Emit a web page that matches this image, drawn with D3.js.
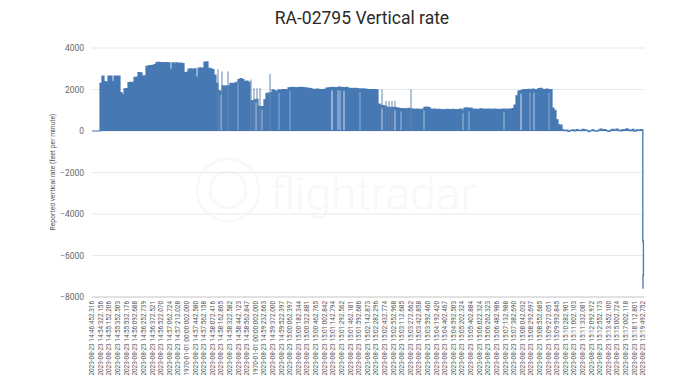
<!DOCTYPE html>
<html>
<head>
<meta charset="utf-8">
<title>RA-02795 Vertical rate</title>
<script src="https://cdn.jsdelivr.net/npm/d3@7"></script>
<style>
  html, body { margin: 0; padding: 0; background: #fff; }
  svg { display: block; font-family: Roboto, sans-serif; }
</style>
</head>
<body>
<div id="chart"></div>
<script>
// vertical rate samples, one every two pixels' worth of the track
const climbA = [0,0,0,0,2300,2650,2380,2360,2650,2650,2380,2650,2650,2650,1850,1750,2030,2040,2330,2340,2350,2590,2600,2820,2800,2650,2660,3120,3140,3150,3160,3200,3300,3310,3300,3290,3300,3300,3290,2980,3280,3270,3280,3260,3270,3250,2820,2830,2980,2990,2970,3000,2600,3030,3040,3020,3320,3330,3020,3000,2960,2700,2300,1950,1900,2180,2160,2170,2180,2300,2290,2310,2340,2480,2520,2480,2380,2400,2360,1460,1450,1500,1520,1190,1170,1180,1500,1820,1830,1840];
const climbB = [1980,1950,1900,1980,1970,1990,2000,1980,2080,2090,2100,2090,2080,2090,2100,2090,2080,2070,2060,2040,2010,2000,2020,2010,2000,1990,2010,2070,2080,2090,2100,2090,2080,2110,2100,2090,2080,2100,2060,2050,2040,2050,2040,2030,2020,2030,2020,2010,2000,2000,1990,1990,1980];
const levelOff = [1300,1250,1230,1200,1150,1140,1130,1140,1130,1120,1090,1080,1070,1080,1060,1090,1070,1050,1040,1060,1040,1030,1050,1140,1150,1130,1060,1040,1050,1030,1040,1020,1030,1010,1040,1030,1020,1040,1030,1020,1030,1060,1000,1100,1110,1090,1100,1060,1050,1030,1040,1070,1050,1040,1060,1050,1030,1050,1060,1040,1030,1040,1060,1050,1040,1050,1060,1080];
const stepUp = [1250,1700,1920,1950,1980,2000,1990,2010,1980,2020,2000,1980,2040,2060,2010,1990,2020,1990,2000,1100,1000,540,300,280];
const cruise = [60,20,40,-20,30,50,10,70,40,20,80,60,30,-30,20,50,10,-10,40,90,50,70,20,-20,40,80,30,90,40,10,70,60,100,50,20,80,-10,60,30,70,90];
const rate = climbA.concat(climbB, levelOff, stepUp, cruise);

// the final dive, at the last sample position
const diveTime = [275.4, 275.4, 275.7, 275.7, 275.5, 275.5];
const diveRate = [100, -5300, -5300, -7000, -6900, -7600];

// single-sample readings that poke above the envelope
const spikeTime = [63,65,68,79.5,81,82.5,84,89,145,147,148.5,150,151.5,159.5];
const spikeRate = [2980,2870,2870,2480,2060,2060,2060,2750,2000,1450,1450,1450,1450,2000];

// samples that dropped to zero, they show as pale slits in the fill
const dropTime = [64.5,73,82,85,93.5,99,120,123,124,126,134,145,151.5,154.5,166,185.5,188.5,206,214.5,219,221,228.5];
const dropAlpha = [0.5,0.4,0.5,0.5,0.4,0.4,0.85,0.6,0.6,0.75,0.4,0.6,0.6,0.5,0.5,0.5,0.5,0.5,0.75,0.4,0.6,0.4];

const yTicks = [4000,2000,0,-2000,-4000,-6000,-8000];
const day = "2023-08-23 ";
const timeLabels = ["14:46:452.316","14:54:322.156","14:55:152.206","14:55:352.503","14:55:532.176","14:56:092.688","14:56:252.739","14:56:372.521","14:56:522.070","14:57:062.724","14:57:212.028","1970","14:57:442.580","14:57:562.158","14:58:072.416","14:58:162.865","14:58:322.582","14:58:442.123","14:58:562.847","1970","14:59:232.663","14:59:372.000","14:59:522.397","15:00:062.397","15:00:182.344","15:00:322.881","15:00:462.765","15:01:002.842","15:01:142.794","15:01:292.562","15:01:462.181","15:01:592.686","15:02:142.873","15:02:282.296","15:02:432.774","15:02:552.968","15:03:112.685","15:03:272.662","15:03:422.858","15:03:592.460","15:04:192.420","15:04:402.467","15:04:592.503","15:05:202.324","15:05:402.884","15:06:022.324","15:06:262.323","15:06:482.986","15:07:132.988","15:07:382.690","15:08:042.032","15:08:292.697","15:08:552.685","15:09:272.051","15:09:592.845","15:10:282.901","15:11:002.103","15:11:332.081","15:12:092.972","15:12:552.173","15:13:452.100","15:15:002.724","15:17:002.118","15:18:112.801","15:19:492.752"];

const W = 694, H = 381;
const blue = "#4679b4";

const svg = d3.select("#chart").append("svg").attr("width", W).attr("height", H);

const x = d3.scaleLinear().domain([0, 276]).range([92, 644]);
const y = d3.scaleLinear().domain([-8000, 4000]).range([297, 48]);
// labels repeat (the 1970 ones), so the point scale runs on their index
const xLab = d3.scalePoint().domain(d3.range(timeLabels.length)).range([91.5, 642.5]);

// faint watermark
const mark = svg.append("g").attr("fill", "none").attr("stroke", "#f8f8f8");
mark.append("circle").attr("cx", 228).attr("cy", 190).attr("r", 31).attr("stroke-width", 2.5);
mark.append("circle").attr("cx", 228).attr("cy", 190).attr("r", 18).attr("stroke-width", 2.5);
svg.append("text").attr("x", 270).attr("y", 210)
  .attr("fill", "#f8f8f8").style("font-size", "46px").style("font-weight", 300)
  .text("flightradar");

// grid
svg.append("g").selectAll("line").data(yTicks).join("line")
  .attr("x1", 92).attr("x2", 644)
  .attr("y1", d => y(d)).attr("y2", d => y(d))
  .attr("stroke", d => d === -8000 ? "#c4c4c4" : "#e8e8e8")
  .attr("stroke-width", 1);

// y axis
const yAxis = svg.append("g").attr("transform", "translate(92,0)")
  .call(d3.axisLeft(y).tickValues(yTicks).tickSize(0).tickPadding(8).tickFormat(d3.format("d")));
yAxis.select(".domain").remove();
yAxis.selectAll("text").attr("fill", "#666").style("font-size", "8.5px").style("font-family", "Roboto, sans-serif");

// x axis
const xAxis = svg.append("g").attr("transform", "translate(0,297)")
  .call(d3.axisBottom(xLab).tickSize(0)
    .tickFormat(i => timeLabels[i] === "1970" ? "1970-01-01 00:00:002.000" : day + timeLabels[i]));
xAxis.select(".domain").remove();
xAxis.selectAll("text")
  .attr("transform", "rotate(-90)")
  .attr("x", -4).attr("y", 0).attr("dy", "0.35em")
  .attr("text-anchor", "end")
  .attr("fill", "#555")
  .style("font-size", "6.4px").style("font-family", "Roboto, sans-serif");

// filled trace
const area = d3.area().x((d, i) => x(i)).y0(y(0)).y1(d => y(d)).curve(d3.curveStepAfter);
const line = d3.line().x((d, i) => x(i)).y(d => y(d)).curve(d3.curveStepAfter);
svg.append("path").datum(rate).attr("d", area).attr("fill", blue);
svg.append("path").datum(rate).attr("d", line).attr("fill", "none").attr("stroke", blue).attr("stroke-width", 1.2);

// spikes above the envelope
svg.append("g").selectAll("line").data(spikeTime).join("line")
  .attr("x1", d => x(d)).attr("x2", d => x(d))
  .attr("y1", y(0)).attr("y2", (d, i) => y(spikeRate[i]))
  .attr("stroke", "#6286ad").attr("stroke-width", 1);

// pale slits
svg.append("g").selectAll("line").data(dropTime).join("line")
  .attr("x1", d => x(d)).attr("x2", d => x(d))
  .attr("y1", y(0) - 1)
  .attr("y2", (d, i) => y(rate[Math.floor(d)]) + 3)
  .attr("stroke", "#fff")
  .attr("stroke-width", 1)
  .attr("stroke-opacity", (d, i) => dropAlpha[i]);

// the dive
svg.append("path")
  .datum(d3.zip(diveTime, diveRate))
  .attr("d", d3.line().x(d => x(d[0])).y(d => y(d[1])))
  .attr("fill", "none").attr("stroke", blue).attr("stroke-width", 1.3);

// y axis title
svg.append("text")
  .attr("transform", "translate(55,172) rotate(-90)")
  .attr("text-anchor", "middle")
  .attr("fill", "#555")
  .style("font-size", "6.8px")
  .text("Reported vertical rate (feet per minute)");

// title
svg.append("text")
  .attr("x", 362).attr("y", 23.5)
  .attr("text-anchor", "middle")
  .attr("fill", "#2a2a2a")
  .style("font-size", "17.5px")
  .text("RA-02795 Vertical rate");
</script>
</body>
</html>
